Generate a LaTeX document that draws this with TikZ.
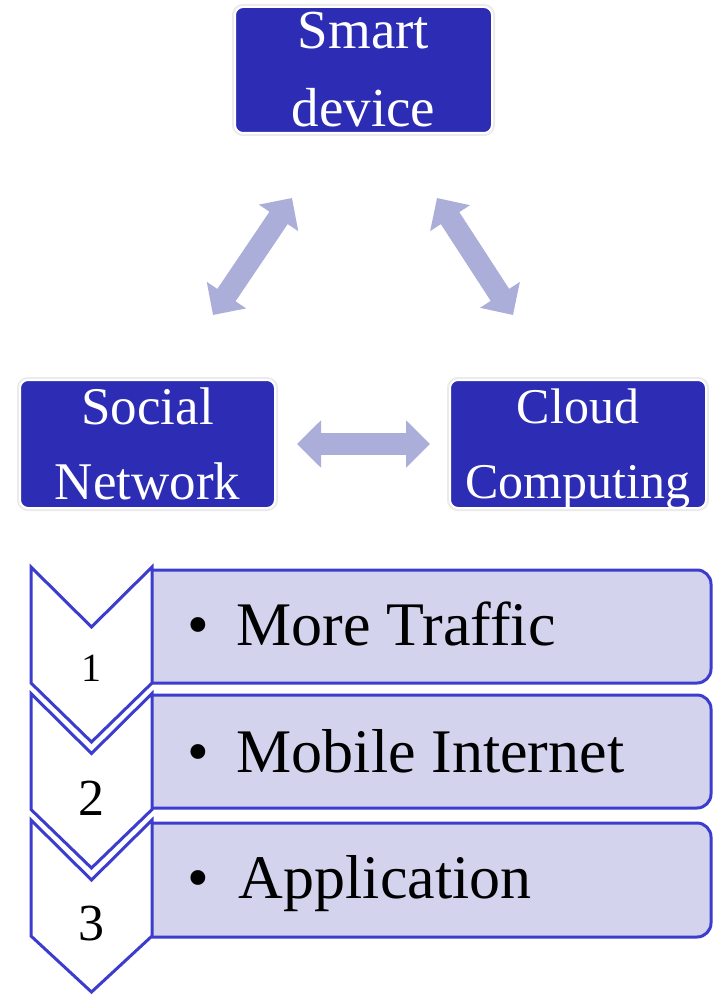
\documentclass[tikz,border=0pt]{standalone}
\usepackage{fontspec}
\setmainfont{Liberation Serif}
\usetikzlibrary{arrows.meta}
\definecolor{darkc}{HTML}{2C2CB4}
\definecolor{chevc}{HTML}{3C3CCF}
\definecolor{lightc}{HTML}{D3D3EE}
\definecolor{arrc}{HTML}{ABAED8}
\begin{document}
\begin{tikzpicture}[x=1pt,y=-1pt,
  darkbox/.style={rectangle, rounded corners=8pt, fill=darkc, draw=white, line width=2pt,
    preaction={draw=black!8, line width=6pt}, inner sep=0pt},
  boxtext/.style={text=white, align=center, inner sep=0pt},
  bigarrow/.style={draw=arrc, line width=22pt,
    {Triangle[length=24pt,width=46pt]}-{Triangle[length=24pt,width=46pt]}},
  lbox/.style={fill=lightc, draw=chevc, line width=3pt, rounded corners=14pt},
  chevst/.style={fill=white, draw=chevc, line width=3pt, line join=miter},
  itemtext/.style={anchor=base west, inner sep=0pt, font=\fontsize{62}{70}\selectfont},
  numtext/.style={anchor=base, inner sep=0pt}
]
\useasboundingbox (0,0) rectangle (713,995);
\fill[white] (0,0) rectangle (713,995);

% top boxes
\node[darkbox, minimum width=257pt, minimum height=126pt] (smart) at (363.5,70) {};
\node[boxtext, font=\fontsize{55}{78}\selectfont] (smarttxt) at (363.5,70) {Smart\\device};
\node[darkbox, minimum width=255pt, minimum height=128pt] (social) at (147.5,444) {};
\node[boxtext, font=\fontsize{53}{75}\selectfont] (socialtxt) at (147.5,444) {Social\\Network};
\node[darkbox, minimum width=256pt, minimum height=128pt] (cloud) at (578,444) {};
\node[boxtext, font=\fontsize{50}{75}\selectfont] (cloudtxt) at (578,449) {Cloud\\Computing};

% arrows
\coordinate (la) at (213,315);
\coordinate (lb) at (292,198);
\coordinate (ra) at (437,198);
\coordinate (rb) at (513,315);
\coordinate (ha) at (297,444);
\coordinate (hb) at (430,444);
\draw[bigarrow] (la) -- (lb);
\draw[bigarrow] (ra) -- (rb);
\draw[bigarrow] (ha) -- (hb);

% list boxes
\path[lbox] (152,570) -- (711,570) -- (711,683) -- (152,683);
\path[lbox] (152,695) -- (711,695) -- (711,808) -- (152,808);
\path[lbox] (152,823) -- (711,823) -- (711,937) -- (152,937);

% chevrons
\path[chevst] (31,567) -- (91.5,627) -- (152,567) -- (152,683) -- (91.5,742) -- (31,683) -- cycle;
\path[chevst] (31,693.5) -- (91.5,753.5) -- (152,693.5) -- (152,809.5) -- (91.5,868) -- (31,809.5) -- cycle;
\path[chevst] (31,820) -- (91.5,880) -- (152,820) -- (152,936) -- (91.5,992) -- (31,936) -- cycle;

% numbers
\node[numtext, font=\fontsize{40}{40}\selectfont] (n1) at (91.5,681) {1};
\node[numtext, font=\fontsize{52}{52}\selectfont] (n2) at (91.5,815) {2};
\node[numtext, font=\fontsize{52}{52}\selectfont] (n3) at (91.5,940) {3};

% items
\node[itemtext] (i1) at (187,645) {\textbullet\hspace{28pt}More Traffic};
\node[itemtext] (i2) at (187,772) {\textbullet\hspace{28pt}Mobile Internet};
\node[itemtext] (i3) at (187,898) {\textbullet\hspace{30pt}Application};
\end{tikzpicture}
\end{document}
